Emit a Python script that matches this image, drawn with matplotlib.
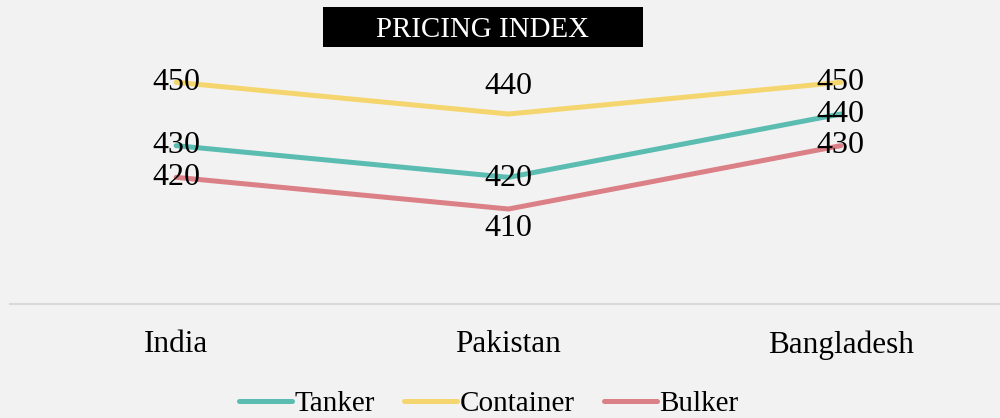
import matplotlib
matplotlib.use("Agg")
import matplotlib.pyplot as plt
from matplotlib.patches import Rectangle

categories = ["India", "Pakistan", "Bangladesh"]
tanker = [430, 420, 440]
container = [450, 440, 450]
bulker = [420, 410, 430]
series_names = ["Tanker", "Container", "Bulker"]
title_text = "PRICING INDEX"

colors = {"Tanker": "#5BBCB2", "Container": "#F5D66E", "Bulker": "#DC8087"}
# label placement offset (points) per series, per category
label_offsets = {
    "Tanker": [0, -1, 0],
    "Container": [0, 20, 0],
    "Bulker": [0, -14, 0],
}

plt.rcParams['font.family'] = ['Liberation Serif', 'DejaVu Serif']
bg = "#F2F2F2"
fig = plt.figure(figsize=(10, 4.18), dpi=100, facecolor=bg)
ax = fig.add_axes([0.010, 1 - 304 / 418, 0.997, 285 / 418])
ax.set_facecolor(bg)

x = list(range(len(categories)))
data = {"Tanker": tanker, "Container": container, "Bulker": bulker}
handles = []
for name in series_names:
    vals = data[name]
    h, = ax.plot(x, vals, color=colors[name], lw=3.6, solid_capstyle='round',
                 solid_joinstyle='miter', label=name, zorder=2)
    handles.append(h)
for name in series_names:
    vals = data[name]
    for xi, v, off in zip(x, vals, label_offsets[name]):
        ax.annotate(str(v), (xi, v), xytext=(0, off), textcoords='offset points',
                    ha='center', va='center', fontsize=23, color='black', zorder=3)

ax.set_xlim(-0.5, 2.5)
ax.set_ylim(380, 470)
ax.set_yticks([])
ax.set_xticks(x)
ax.set_xticklabels(categories, fontsize=22.5)
ax.tick_params(axis='x', length=0, pad=19)
for s in ['top', 'right', 'left']:
    ax.spines[s].set_visible(False)
ax.spines['bottom'].set_color('#D9D9D9')
ax.spines['bottom'].set_linewidth(1.5)

# title box
fig.patches.append(Rectangle((323 / 1000, 1 - 47 / 418), 320 / 1000, 40 / 418,
                             transform=fig.transFigure, facecolor='black',
                             edgecolor='none', zorder=5))
fig.text(483 / 1000, 1 - 30 / 418, title_text, color='white', fontsize=20.8,
         ha='center', va='center', zorder=6)

fig.legend(handles=handles, labels=series_names, loc='center',
           bbox_to_anchor=(0.489, 1 - 404 / 418), ncol=3, frameon=False,
           fontsize=21, handlelength=1.8, handletextpad=0.1, columnspacing=1.0,
           borderpad=0, borderaxespad=0)

fig.savefig("out.png", dpi=100, facecolor=bg)
